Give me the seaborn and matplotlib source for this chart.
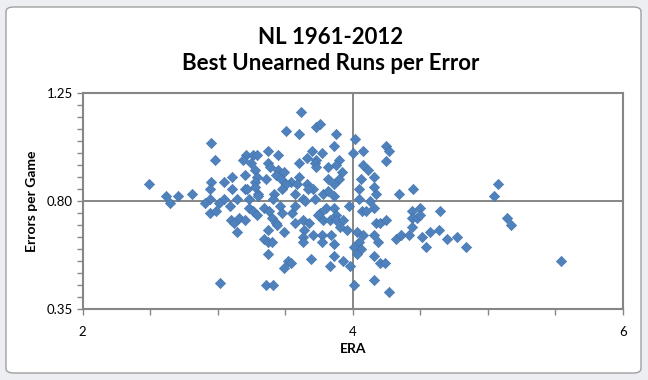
import numpy as np
import pandas as pd
import matplotlib
matplotlib.use("Agg")
import matplotlib.pyplot as plt
from matplotlib.patches import FancyBboxPatch
from matplotlib.ticker import MultipleLocator, FixedLocator
import seaborn as sns

# values
era = [
    3.62, 3.73, 3.76, 3.51, 3.60, 3.88, 4.02, 2.95, 3.86, 4.25,
    4.27, 4.08, 3.37, 3.70, 3.77, 4.00, 3.21, 3.26, 3.29, 3.45,
    3.19, 2.98, 3.66, 3.73, 3.90, 4.25, 3.60, 3.25, 3.37, 3.72,
    3.88, 4.08, 3.39, 3.73, 3.82, 3.45, 3.28, 4.11, 3.49, 3.20,
    3.92, 3.43, 3.11, 3.29, 3.60, 3.82, 4.06, 4.16, 3.36, 3.47,
    3.90, 3.54, 2.95, 3.05, 3.28, 3.66, 3.86, 3.51, 3.59, 4.16,
    3.11, 3.20, 3.22, 2.94, 3.48, 3.71, 3.67, 3.28, 4.05, 4.45,
    2.81, 3.30, 3.42, 3.57, 3.78, 3.82, 4.17, 4.34, 3.86, 2.94,
    3.05, 3.14, 3.30, 3.41, 3.63, 3.65, 3.72, 4.05, 4.13, 3.23,
    2.91, 3.01, 3.09, 2.94, 2.99, 3.23, 3.26, 3.29, 3.34, 3.38,
    3.46, 3.48, 3.55, 3.57, 3.76, 3.74, 3.80, 3.86, 3.88, 3.97,
    4.07, 4.10, 4.16, 4.44, 4.50, 3.10, 3.12, 3.16, 3.20, 3.14,
    3.40, 3.43, 3.44, 3.37, 3.49, 3.57, 3.63, 3.68, 3.64, 3.78,
    3.83, 3.88, 3.93, 3.91, 3.96, 4.03, 4.08, 4.17, 4.20, 4.25,
    4.44, 4.44, 4.48, 4.50, 3.71, 3.77, 3.84, 3.63, 3.63, 3.77,
    3.86, 3.34, 3.37, 3.40, 3.37, 4.16, 4.19, 4.32, 4.36, 4.42,
    4.05, 4.01, 4.06, 4.03, 3.52, 3.54, 3.49, 3.69, 3.86, 3.93,
    3.83, 3.98, 4.16, 4.20, 4.24, 3.02, 3.36, 3.41, 4.01, 4.16,
    4.27, 5.08, 5.05, 5.14, 5.17, 5.54, 4.65, 4.57, 4.64, 4.70,
    4.77, 4.84, 4.51, 4.54, 2.49, 2.62, 2.71, 2.65,
]
errors_per_game = [
    1.17, 1.11, 1.12, 1.09, 1.08, 1.08, 1.06, 1.04, 1.03, 1.03,
    1.01, 1.01, 1.01, 1.01, 1.00, 1.00, 0.99, 0.99, 0.99, 0.99,
    0.97, 0.97, 0.98, 0.97, 0.97, 0.965, 0.96, 0.96, 0.96, 0.96,
    0.95, 0.95, 0.94, 0.94, 0.94, 0.93, 0.93, 0.93, 0.92, 0.91,
    0.92, 0.91, 0.90, 0.90, 0.90, 0.89, 0.89, 0.90, 0.89, 0.89,
    0.89, 0.88, 0.88, 0.88, 0.88, 0.87, 0.87, 0.87, 0.87, 0.86,
    0.85, 0.85, 0.85, 0.85, 0.85, 0.85, 0.85, 0.86, 0.85, 0.85,
    0.83, 0.83, 0.83, 0.83, 0.83, 0.84, 0.83, 0.83, 0.82, 0.81,
    0.81, 0.81, 0.82, 0.81, 0.81, 0.80, 0.81, 0.81, 0.80, 0.81,
    0.79, 0.79, 0.78, 0.75, 0.76, 0.77, 0.76, 0.74, 0.77, 0.76,
    0.78, 0.75, 0.75, 0.78, 0.75, 0.74, 0.77, 0.77, 0.74, 0.78,
    0.76, 0.76, 0.77, 0.76, 0.77, 0.72, 0.71, 0.73, 0.72, 0.67,
    0.73, 0.71, 0.70, 0.68, 0.67, 0.71, 0.72, 0.71, 0.68, 0.72,
    0.72, 0.72, 0.72, 0.69, 0.68, 0.67, 0.66, 0.71, 0.71, 0.72,
    0.73, 0.69, 0.73, 0.74, 0.66, 0.66, 0.66, 0.65, 0.63, 0.63,
    0.62, 0.64, 0.63, 0.63, 0.58, 0.66, 0.63, 0.64, 0.66, 0.66,
    0.63, 0.61, 0.60, 0.58, 0.55, 0.54, 0.52, 0.56, 0.57, 0.55,
    0.53, 0.53, 0.57, 0.54, 0.54, 0.46, 0.45, 0.45, 0.45, 0.47,
    0.42, 0.87, 0.82, 0.73, 0.70, 0.55, 0.76, 0.67, 0.68, 0.64,
    0.65, 0.61, 0.65, 0.61, 0.87, 0.82, 0.82, 0.79,
]
x_ticks = [2, 4, 6]
y_ticks = [0.35, 0.80, 1.25]
y_tick_labels = ["0.35", "0.80", "1.25"]

df = pd.DataFrame({"ERA": era, "Errors per Game": errors_per_game})

sns.set_theme(style="white")
plt.rcParams["font.family"] = ["Lato", "DejaVu Sans"]
plt.rcParams["text.color"] = "black"
plt.rcParams["axes.labelcolor"] = "black"

axis_grey = "#868686"
blue = "#4F81BD"

fig = plt.figure(figsize=(6.48, 3.8), dpi=100, facecolor="#eceef1")
# chart area (white rounded box like the spreadsheet chart)
fig.patches.append(FancyBboxPatch(
    (6 / 648, 7 / 380), 635 / 648, 366 / 380,
    boxstyle="round,pad=0,rounding_size=0.012",
    transform=fig.transFigure, facecolor="white",
    edgecolor="#a0a0a0", linewidth=1.0, zorder=-5))

ax = fig.add_axes([82.6 / 648, 1 - 309 / 380, 540.1 / 648, 216 / 380])
ax.set_zorder(2)
ax.set_facecolor("white")

sns.scatterplot(data=df, x="ERA", y="Errors per Game", ax=ax,
                marker="D", s=28, color=blue, edgecolor="#3f72ad",
                linewidth=0.4, zorder=3, legend=False)

ax.set_xlim(2, 6)
ax.set_ylim(0.35, 1.25)
ax.xaxis.set_major_locator(FixedLocator(x_ticks))
ax.xaxis.set_minor_locator(MultipleLocator(0.5))
ax.yaxis.set_major_locator(FixedLocator(y_ticks))
ax.set_yticklabels(y_tick_labels)
ax.yaxis.set_minor_locator(MultipleLocator(0.05))

ax.grid(True, which="major", color=axis_grey, linewidth=1.4, zorder=1)
ax.set_axisbelow(True)
for sp in ax.spines.values():
    sp.set_color(axis_grey)
    sp.set_linewidth(1.5)

ax.tick_params(axis="both", which="both", direction="out", color=axis_grey,
               width=1.0, length=4, labelsize=9.5, labelcolor="black")
ax.tick_params(axis="x", which="major", pad=8)
ax.tick_params(axis="y", which="major", pad=3)
ax.tick_params(bottom=True, left=True, which="both")

ax.set_xlabel("ERA", fontsize=10, fontweight="bold", labelpad=4)
ax.set_ylabel("Errors per Game", fontsize=10, fontweight="bold", labelpad=6)

fig.text(331 / 648, 1 - 37 / 380, "NL 1961-2012", ha="center", va="center",
         fontsize=16, fontweight="bold", color="black")
fig.text(331 / 648, 1 - 64 / 380, "Best Unearned Runs per Error", ha="center",
         va="center", fontsize=16, fontweight="bold", color="black")

fig.savefig("out.png", dpi=100, facecolor=fig.get_facecolor())
